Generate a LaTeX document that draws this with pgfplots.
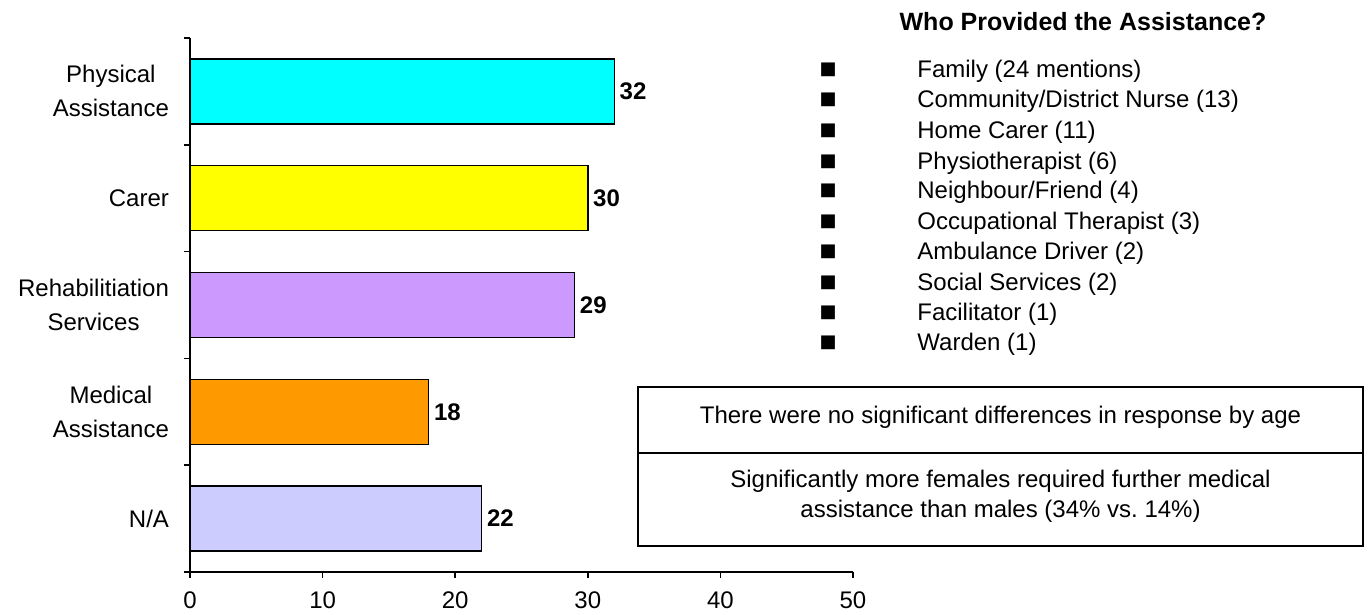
\documentclass[border=0pt]{standalone}
\usepackage{pgfplots}
\pgfplotsset{compat=1.18}
\usepackage{fontspec}
\setmainfont{Liberation Sans}
\newfontfamily\dejavu{DejaVu Sans}
\definecolor{cPhys}{HTML}{00FFFF}
\definecolor{cCarer}{HTML}{FFFF00}
\definecolor{cRehab}{HTML}{CC99FF}
\definecolor{cMed}{HTML}{FF9900}
\definecolor{cNA}{HTML}{CCCCFF}
\begin{document}
\begin{tikzpicture}
\useasboundingbox (0,0) rectangle (685.5pt,307.5pt);
\begin{axis}[
  at={(95pt,21.5pt)}, anchor=south west,
  scale only axis, width=331.5pt, height=267pt,
  xmin=0, xmax=50, ymin=-0.5, ymax=4.5,
  axis x line*=bottom, axis y line*=left,
  axis line style={line width=0.75pt, -},
  tick align=outside, major tick length=3pt,
  tick style={line width=0.75pt, black},
  xtick={0,10,...,50},
  ytick={-0.5,0.5,1.5,2.5,3.5,4.5}, yticklabels={},
  extra y ticks={0,1,2,3,4},
  extra y tick labels={N/A,Medical\\Assistance,Rehabilitiation\\Services,Carer,Physical\\Assistance},
  extra y tick style={major tick length=0pt, yticklabel style={align=center, font=\fontsize{12}{17}\selectfont, xshift=-7pt}},
  ticklabel style={font=\fontsize{12}{14}\selectfont},
  /pgf/number format/assume math mode=true,
  xticklabel style={yshift=-3.5pt},
  xbar, bar width=32.5pt, bar shift=0pt,
  nodes near coords,
  nodes near coords style={font=\bfseries\fontsize{12}{14}\selectfont, anchor=west, xshift=-1pt},
  clip=false,
]
\addplot[fill=cPhys, draw=black, line width=0.75pt] coordinates {(32,4)};
\addplot[fill=cCarer, draw=black, line width=0.75pt] coordinates {(30,3)};
\addplot[fill=cRehab, draw=black, line width=0.75pt] coordinates {(29,2)};
\addplot[fill=cMed, draw=black, line width=0.75pt] coordinates {(18,1)};
\addplot[fill=cNA, draw=black, line width=0.75pt] coordinates {(22,0)};
\end{axis}
\begin{scope}[x=0.5pt,y=-0.5pt,shift={(0pt,307.5pt)}]
\node[font=\bfseries\fontsize{12.5}{15}\selectfont] at (1083,22) {Who Provided the Assistance?};
\foreach \yy/\txt in {70/{Family (24 mentions)},100/{Community/District Nurse (13)},131/{Home Carer (11)},162/{Physiotherapist (6)},191/{Neighbour/Friend (4)},222/{Occupational Therapist (3)},252/{Ambulance Driver (2)},283/{Social Services (2)},313/{Facilitator (1)},343/{Warden (1)}}{
  \node[font=\dejavu\fontsize{9}{10}\selectfont, inner sep=0pt] at (828,\yy) {■};
  \node[font=\fontsize{12}{14}\selectfont, anchor=base west, inner sep=0pt] at (917,\yy+8) {\txt};
}
\draw[line width=0.75pt] (638,387) rectangle (1363,546);
\draw[line width=0.75pt] (638,453) -- (1363,453);
\node[font=\fontsize{12}{14}\selectfont] at (1000.5,417) {There were no significant differences in response by age};
\node[font=\fontsize{12}{15}\selectfont, align=center] at (1000.5,496) {Significantly more females required further medical\\assistance than males (34\% vs.\ 14\%)};
\end{scope}
\end{tikzpicture}
\end{document}
